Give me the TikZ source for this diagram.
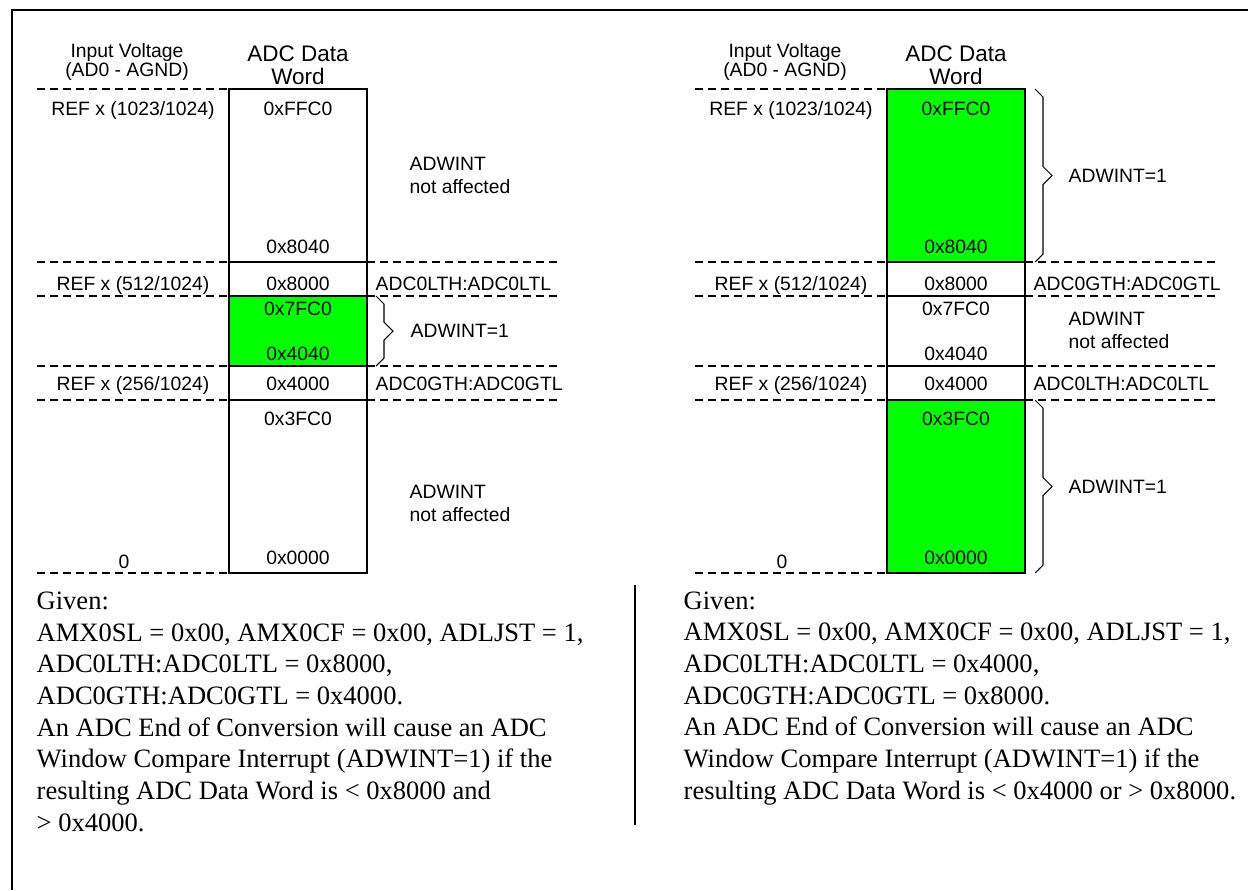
\documentclass[tikz,border=0pt]{standalone}
\usepackage{fontspec}
\setmainfont{Liberation Serif}
\setsansfont{Liberation Sans}
\usetikzlibrary{positioning}
\definecolor{wingreen}{RGB}{0,255,0}
\tikzset{lab/.style={font=\sffamily\fontsize{11}{11}\selectfont,inner sep=0pt,anchor=base},
  labw/.style={lab,anchor=base west},
  aff/.style={font=\sffamily\fontsize{11}{12.9}\selectfont,align=left,inner sep=0pt,anchor=base west},
  vhead/.style={font=\sffamily\fontsize{11}{10.8}\selectfont,align=center,inner sep=0pt,anchor=base},
  whead/.style={font=\sffamily\fontsize{12.8}{12.7}\selectfont,align=center,inner sep=0pt,anchor=base},
  rowsep/.style={dash pattern=on 4.5pt off 2.9pt},
  given/.style={font=\fontsize{15.1}{18}\selectfont,align=left,inner sep=0pt,anchor=base west}}
\newcommand{\winbrace}[3]{\draw[line width=0.6pt] (#1,#2)--++(8,8)--(#1+8,{(#2+#3)/2-9})--++(9,9)--++(-9,9)--(#1+8,#3-8)--(#1,#3);}

\begin{document}
\begin{tikzpicture}[x=0.02cm,y=-0.02cm,line width=0.8pt]
\useasboundingbox (0,0) rectangle (1248,890);
\draw[line width=1.6pt] (12,890)--(12,10)--(1248,10);
% green ranges first, the grid goes over them
\fill[wingreen] (229,296) rectangle (367,366);\fill[wingreen] (887,89) rectangle (1025,262);\fill[wingreen] (887,400) rectangle (1025,573);
\foreach \dx/\p in {0/l,658/r}{\begin{scope}[xshift=\dx*0.02cm]
\node[vhead] (\p vin) at (127,76){Input Voltage\\(AD0 - AGND)};\node[whead] (\p word) at (298,84){ADC Data\\Word};
\foreach \y in {89,262,296,366,400,573}{\draw[rowsep] (37,\y)--(229,\y);}
\foreach \y in {262,296,366,400}{\draw[rowsep] (367,\y)--(558,\y);\draw (229,\y)--(367,\y);}
\draw (229,89) rectangle (367,573);
\foreach \v/\y [count=\i] in {0xFFC0/115,0x8040/253,0x8000/290,0x7FC0/315,0x4040/360,0x4000/390,0x3FC0/425,0x0000/564}{\node[lab] (\p val\i) at (298,\y){\v};}
\node[lab] (\p ref1) at (133,115){REF x (1023/1024)};\node[lab] (\p ref2) at (133,290){REF x (512/1024)};
\node[lab] (\p ref3) at (133,390){REF x (256/1024)};\node[lab] (\p ref4) at (124,568){0};
\end{scope}}
% left panel: window inside
\winbrace{376}{296}{366}
\node[aff] (lna1) at (409,193){ADWINT\\not affected};\node[labw] (lint) at (410,337){ADWINT=1};\node[aff] (lna2) at (409,521){ADWINT\\not affected};
\node[labw] (llt) at (375,290){ADC0LTH:ADC0LTL};\node[labw] (lgt) at (375,390){ADC0GTH:ADC0GTL};
% right panel: window outside
\winbrace{1035}{89}{262}\winbrace{1035}{400}{573}
\node[labw] (rint1) at (1068,182){ADWINT=1};\node[aff] (rna) at (1068,348){ADWINT\\not affected};\node[labw] (rint2) at (1068,493){ADWINT=1};
\node[labw] (rgt) at (1033,290){ADC0GTH:ADC0GTL};\node[labw] (rlt) at (1033,390){ADC0LTH:ADC0LTL};
\draw[line width=1.2pt] (635,585)--(635,825);
\node[given] (lgiven) at (36,831){Given:\\AMX0SL = 0x00, AMX0CF = 0x00, ADLJST = 1,\\ADC0LTH:ADC0LTL = 0x8000,\\ADC0GTH:ADC0GTL = 0x4000.\\An ADC End of Conversion will cause an ADC\\Window Compare Interrupt (ADWINT=1) if the\\resulting ADC Data Word is < 0x8000 and\\> 0x4000.};
\node[given] (rgiven) at (683,799){Given:\\AMX0SL = 0x00, AMX0CF = 0x00, ADLJST = 1,\\ADC0LTH:ADC0LTL = 0x4000,\\ADC0GTH:ADC0GTL = 0x8000.\\An ADC End of Conversion will cause an ADC\\Window Compare Interrupt (ADWINT=1) if the\\resulting ADC Data Word is < 0x4000 or > 0x8000.};
\end{tikzpicture}
\end{document}
